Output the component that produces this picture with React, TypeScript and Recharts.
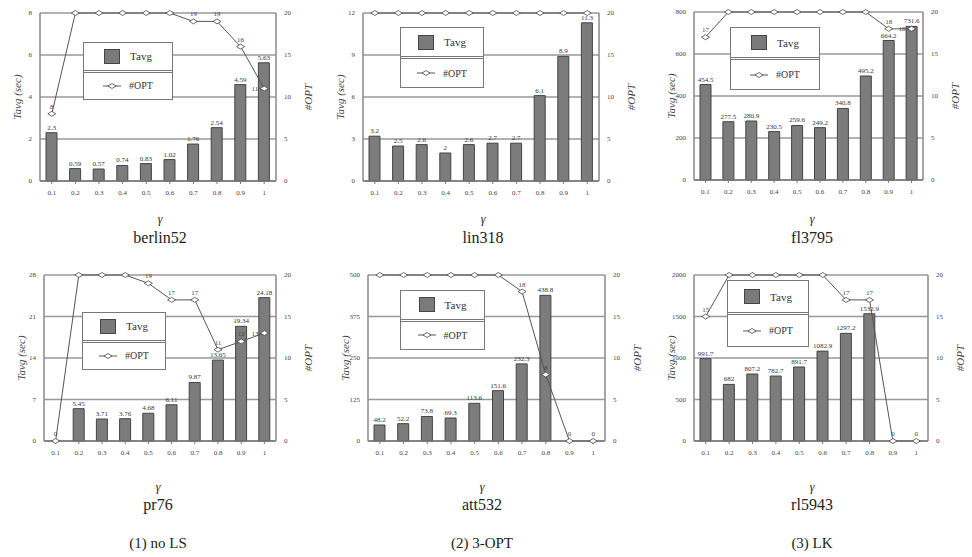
import React from 'react';
import { ComposedChart, Bar, Line, XAxis, YAxis, CartesianGrid, LabelList, Legend } from 'recharts';

const gammas = ['0.1', '0.2', '0.3', '0.4', '0.5', '0.6', '0.7', '0.8', '0.9', '1'];

const berlinTavg = [2.3, 0.59, 0.57, 0.74, 0.83, 1.02, 1.76, 2.54, 4.59, 5.63];
const berlinOpt = [8, 20, 20, 20, 20, 20, 19, 19, 16, 11];
const linTavg = [3.2, 2.5, 2.6, 2, 2.6, 2.7, 2.7, 6.1, 8.9, 11.3];
const linOpt = [20, 20, 20, 20, 20, 20, 20, 20, 20, 20];
const flTavg = [454.5, 277.5, 280.9, 230.5, 259.6, 249.2, 340.8, 495.2, 664.2, 731.6];
const flOpt = [17, 20, 20, 20, 20, 20, 20, 20, 18, 18];
const prTavg = [null, 5.45, 3.71, 3.76, 4.68, 6.11, 9.87, 13.65, 19.34, 24.18];
const prOpt = [0, 20, 20, 20, 19, 17, 17, 11, 12, 13];
const attTavg = [48.2, 52.2, 73.8, 69.3, 113.6, 151.6, 232.3, 438.8, null, null];
const attOpt = [20, 20, 20, 20, 20, 20, 18, 8, 0, 0];
const rlTavg = [991.7, 682, 807.2, 782.7, 891.7, 1082.9, 1297.2, 1532.9, null, null];
const rlOpt = [15, 20, 20, 20, 20, 20, 17, 17, 0, 0];

const berlinTicks = [0, 2, 4, 6, 8];
const linTicks = [0, 3, 6, 9, 12];
const flTicks = [0, 200, 400, 600, 800];
const prTicks = [0, 7, 14, 21, 28];
const attTicks = [0, 125, 250, 375, 500];
const rlTicks = [0, 500, 1000, 1500, 2000];
const optTicks = [0, 5, 10, 15, 20];

const instanceNames = ['berlin52', 'lin318', 'fl3795', 'pr76', 'att532', 'rl5943'];
const captions = ['(1) no LS', '(2) 3-OPT', '(3) LK'];

const FONT = '"Liberation Serif", "Times New Roman", Times, "DejaVu Serif", serif';

const build = (t: (number | null)[], o: number[]) =>
  gammas.map((g, i) => ({ g, t: t[i], o: o[i] }));

const Diamond = (props: any) => {
  const { cx, cy } = props;
  if (cx == null || cy == null) return null;
  return (
    <path
      d={`M${cx - 4},${cy} L${cx},${cy - 2.5} L${cx + 4},${cy} L${cx},${cy + 2.5} Z`}
      fill="#fff"
      stroke="#444"
      strokeWidth={0.8}
    />
  );
};

const OptLabel = (props: any) => {
  const { x, y, value, index } = props;
  if (value == null || value >= 20) return null;
  if (index === gammas.length - 1 && value > 0) {
    return (
      <text x={x - 6} y={y + 2.5} textAnchor="end" fontSize={7} fill="#444" fontFamily={FONT}>
        {value}
      </text>
    );
  }
  return (
    <text x={x} y={y - 5} textAnchor="middle" fontSize={7} fill="#444" fontFamily={FONT}>
      {value}
    </text>
  );
};

const LegendBox = ({ w, h }: { w: number; h: number }) => (
  <div
    style={{
      width: w,
      height: h,
      border: '1.5px solid #777',
      background: '#fff',
      boxSizing: 'border-box',
      fontFamily: FONT,
      display: 'flex',
      flexDirection: 'column',
    }}
  >
    <div style={{ flex: 1, display: 'flex', alignItems: 'center', justifyContent: 'center', borderBottom: '3px double #777' }}>
      <span style={{ display: 'inline-block', width: 14, height: 13, background: '#7a7a7a', border: '1px solid #444', marginRight: 10 }} />
      <span style={{ fontSize: 11, color: '#333' }}>Tavg</span>
    </div>
    <div style={{ flex: 1, display: 'flex', alignItems: 'center', justifyContent: 'center' }}>
      <svg width={18} height={8} style={{ marginRight: 8 }}>
        <line x1={0} y1={4} x2={18} y2={4} stroke="#555" strokeWidth={1} />
        <path d="M5,4 L9,1.5 L13,4 L9,6.5 Z" fill="#fff" stroke="#444" strokeWidth={0.8} />
      </svg>
      <span style={{ fontSize: 10, color: '#333' }}>#OPT</span>
    </div>
  </div>
);

type PanelProps = {
  data: any[];
  ticks: number[];
  plotLeft: number;
  plotTop: number;
  plotW: number;
  plotH: number;
  legLeft: number;
  legTop: number;
  legW: number;
  legH: number;
};

const tickStyle = { fontSize: 7, fill: '#444', fontFamily: FONT };

const Panel = (p: PanelProps) => {
  const cl = p.plotLeft - 40;
  const ct = p.plotTop - 10;
  const max = p.ticks[p.ticks.length - 1];
  return (
    <div style={{ position: 'absolute', left: cl, top: ct }}>
      <ComposedChart
        width={p.plotW + 80}
        height={p.plotH + 40}
        data={p.data}
        margin={{ top: 10, right: 0, bottom: 0, left: 0 }}
      >
        <CartesianGrid yAxisId="left" vertical={false} stroke="#999" strokeWidth={1.6} />
        <XAxis
          dataKey="g"
          height={30}
          tick={tickStyle}
          tickLine={{ stroke: '#777' }}
          tickSize={3}
          tickMargin={6}
          axisLine={{ stroke: '#777', strokeWidth: 1.5 }}
          interval={0}
        />
        <YAxis
          yAxisId="left"
          orientation="left"
          width={40}
          domain={[0, max]}
          ticks={p.ticks}
          interval={0}
          tick={tickStyle}
          tickLine={false}
          axisLine={{ stroke: '#888', strokeWidth: 1.5 }}
          label={{ value: 'Tavg (sec)', angle: -90, position: 'center', dx: -3, style: { fontSize: 11, fontStyle: 'italic', fill: '#444', fontFamily: FONT } }}
        />
        <YAxis
          yAxisId="right"
          orientation="right"
          width={40}
          domain={[0, 20]}
          ticks={optTicks}
          interval={0}
          tick={tickStyle}
          tickLine={false}
          axisLine={{ stroke: '#888', strokeWidth: 1.5 }}
          label={{ value: '#OPT', angle: -90, position: 'center', dx: 12, style: { fontSize: 11, fontStyle: 'italic', fill: '#444', fontFamily: FONT } }}
        />
        <Legend
          layout="vertical"
          align="center"
          verticalAlign="middle"
          wrapperStyle={{ left: p.legLeft - cl, top: p.legTop - ct, width: p.legW, height: p.legH }}
          content={() => <LegendBox w={p.legW} h={p.legH} />}
        />
        <Bar yAxisId="left" dataKey="t" fill="#7c7c7c" stroke="#444" strokeWidth={1} barSize={11} isAnimationActive={false}>
          <LabelList dataKey="t" position="top" offset={3} style={{ fontSize: 7, fill: '#333', fontFamily: FONT }} />
        </Bar>
        <Line
          yAxisId="right"
          dataKey="o"
          stroke="#555"
          strokeWidth={1}
          dot={<Diamond />}
          activeDot={false}
          isAnimationActive={false}
        >
          <LabelList dataKey="o" content={<OptLabel />} />
        </Line>
      </ComposedChart>
    </div>
  );
};

const TextAt = ({ x, y, children, size, italic }: any) => (
  <div
    style={{
      position: 'absolute',
      left: x - 80,
      top: y - size * 0.6,
      width: 160,
      textAlign: 'center',
      fontFamily: FONT,
      fontSize: size,
      fontStyle: italic ? 'italic' : 'normal',
      color: '#222',
      lineHeight: 1.2 + 'em',
      whiteSpace: 'nowrap',
    }}
  >
    {children}
  </div>
);

export default function App() {
  const panels: PanelProps[] = [
    { data: build(berlinTavg, berlinOpt), ticks: berlinTicks, plotLeft: 40, plotTop: 13, plotW: 236, plotH: 168, legLeft: 83, legTop: 42, legW: 90, legH: 58 },
    { data: build(linTavg, linOpt), ticks: linTicks, plotLeft: 363, plotTop: 13, plotW: 236, plotH: 168, legLeft: 400, legTop: 27, legW: 84, legH: 61 },
    { data: build(flTavg, flOpt), ticks: flTicks, plotLeft: 694, plotTop: 12, plotW: 229, plotH: 168, legLeft: 730, legTop: 27, legW: 90, legH: 63 },
    { data: build(prTavg, prOpt), ticks: prTicks, plotLeft: 44, plotTop: 275, plotW: 232, plotH: 166, legLeft: 82, legTop: 312, legW: 84, legH: 58 },
    { data: build(attTavg, attOpt), ticks: attTicks, plotLeft: 368, plotTop: 275, plotW: 237, plotH: 166, legLeft: 400, legTop: 290, legW: 85, legH: 60 },
    { data: build(rlTavg, rlOpt), ticks: rlTicks, plotLeft: 694, plotTop: 275, plotW: 234, plotH: 166, legLeft: 727, legTop: 280, legW: 82, legH: 67 },
  ];
  const nameX = [160, 483, 812, 158, 482, 812];
  const nameY = [238, 238, 238, 505, 505, 505];
  const gammaY = [219, 219, 219, 487, 487, 487];
  const capX = [158, 482, 812];
  return (
    <div style={{ position: 'absolute', left: 0, top: 0, width: 972, height: 557, background: '#fff', overflow: 'hidden' }}>
      {panels.map((p, i) => (
        <Panel key={i} {...p} />
      ))}
      {instanceNames.map((n, i) => (
        <React.Fragment key={n}>
          <TextAt x={nameX[i]} y={gammaY[i]} size={12} italic>γ</TextAt>
          <TextAt x={nameX[i]} y={nameY[i]} size={16}>{n}</TextAt>
        </React.Fragment>
      ))}
      {captions.map((c, i) => (
        <TextAt key={c} x={capX[i]} y={543} size={15}>{c}</TextAt>
      ))}
    </div>
  );
}
